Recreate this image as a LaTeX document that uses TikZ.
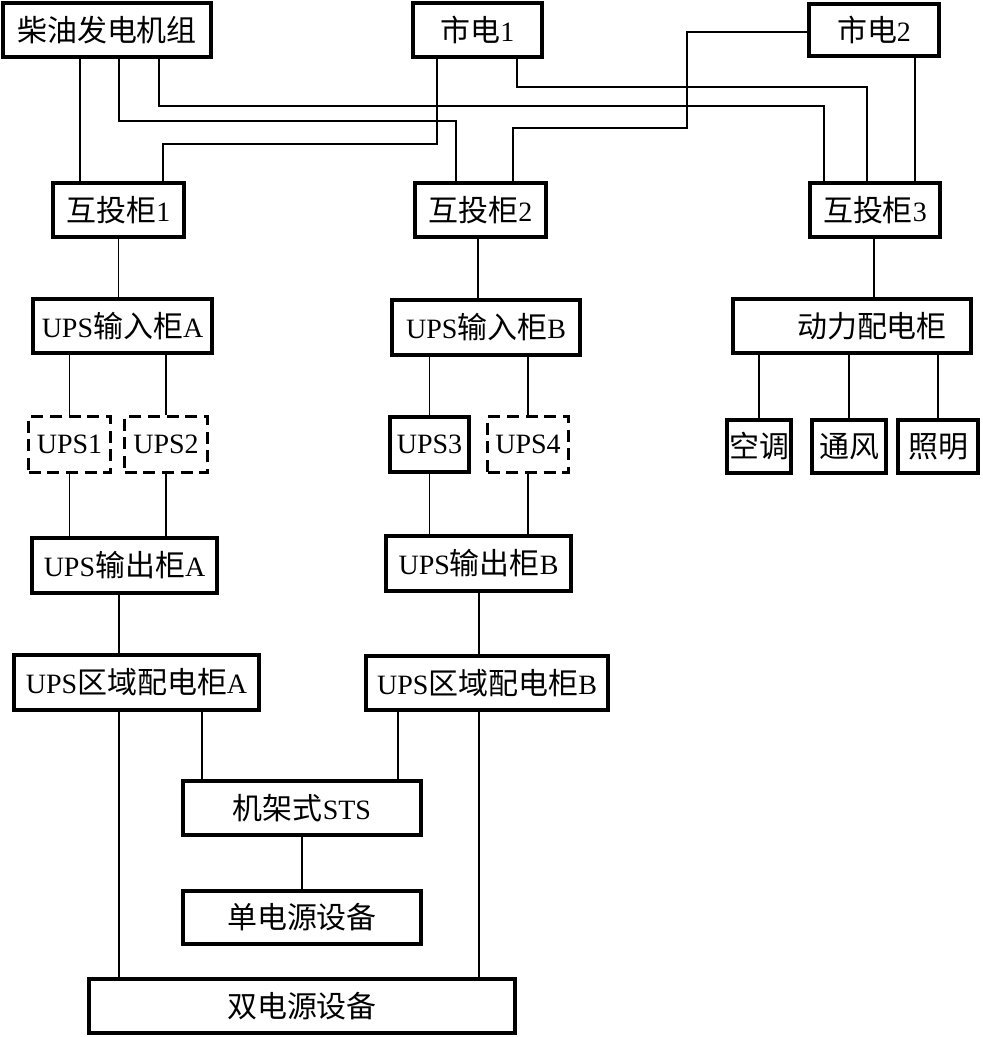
\documentclass[tikz,border=0pt]{standalone}
\usepackage{fontspec}
\setmainfont{Liberation Serif}
\newfontfamily\zhfont[Scale=1.07]{Noto Sans CJK SC}
\newcommand{\zh}[1]{{\zhfont #1}}

\begin{document}
\begin{tikzpicture}[x=0.75pt, y=-0.75pt,
    font=\fontsize{21}{25}\selectfont,
    boxsize/.style 2 args={minimum width=#1*0.75pt, minimum height=#2*0.75pt},
    box/.style={draw, line width=3.2pt, inner sep=0pt},
    dbox/.style={draw, line width=1.8pt, dash pattern=on 9pt off 5pt, inner sep=0pt},
    wire/.style={line width=0.8pt}]

\useasboundingbox (0,0) rectangle (982,1037);

% Power sources
\node[box, boxsize={208}{54}] (diesel) at (107,30) {\zh{柴油发电机组}};
\node[box, boxsize={129}{54}] (grid1) at (477.5,30) {\zh{市电}1};
\node[box, boxsize={130}{52}] (grid2) at (874,30) {\zh{市电}2};

% Transfer cabinets
\node[box, boxsize={131}{54}] (ats1) at (118.5,210) {\zh{互投柜}1};
\node[box, boxsize={131}{54}] (ats2) at (480.5,210) {\zh{互投柜}2};
\node[box, boxsize={130}{54}] (ats3) at (875,210) {\zh{互投柜}3};

% Input cabinets
\node[box, boxsize={179}{54}] (inA) at (122.5,326) {UPS\zh{输入柜}A};
\node[box, boxsize={188}{55}] (inB) at (486,327.5) {UPS\zh{输入柜}B};
\node[box, boxsize={238}{54}] (power) at (852,326) {\hspace*{30pt}\zh{动力配电柜}};

% UPS units
\node[dbox, boxsize={82}{56}] (ups1) at (69.5,444.5) {UPS1};
\node[dbox, boxsize={83}{56}] (ups2) at (166,444.5) {UPS2};
\node[box, boxsize={79}{55}] (ups3) at (429.5,444.5) {UPS3};
\node[dbox, boxsize={81}{56}] (ups4) at (528,444.5) {UPS4};

% Power loads
\node[box, boxsize={64}{53}] (ac) at (759,446.5) {\zh{空调}};
\node[box, boxsize={74}{53}] (fan) at (849,446.5) {\zh{通风}};
\node[box, boxsize={80}{53}] (light) at (938,446.5) {\zh{照明}};

% Output and distribution
\node[box, boxsize={185}{55}] (outA) at (124.5,565.5) {UPS\zh{输出柜}A};
\node[box, boxsize={185}{55}] (outB) at (478.5,563.5) {UPS\zh{输出柜}B};
\node[box, boxsize={245}{55}] (distA) at (136.5,682.5) {UPS\zh{区域配电柜}A};
\node[box, boxsize={242}{54}] (distB) at (487,683) {UPS\zh{区域配电柜}B};

% Equipment
\node[box, boxsize={238}{54}] (sts) at (302,808) {\zh{机架式}STS};
\node[box, boxsize={238}{53}] (single) at (302,917.5) {\zh{单电源设备}};
\node[box, boxsize={426}{54}] (dual) at (302,1006) {\zh{双电源设备}};

% Feeders to transfer cabinets
\draw[wire] (diesel.south -| 80,0) -- (ats1.north -| 80,0);
\draw[wire] (diesel.south -| 119,0) |- (456,121) -- (ats2.north -| 456,0);
\draw[wire, line width=1.6pt] (diesel.south -| 159,0) |- (824,106) -- (ats3.north -| 824,0);
\draw[wire] (grid1.south -| 437,0) |- (163,144) -- (ats1.north -| 163,0);
\draw[wire] (grid1.south -| 517,0) |- (867,87) -- (ats3.north -| 867,0);
\draw[wire, line width=1.3pt] (grid2.west |- 0,32) -| (687,128) -| (ats2.north -| 513,0);
\draw[wire] (grid2.south -| 915,0) -- (ats3.north -| 915,0);

% Down the columns
\draw[wire] (ats1.south) -- (inA.north -| ats1.south);
\draw[wire] (ats2.south -| 478,0) -- (inB.north -| 478,0);
\draw[wire] (ats3.south -| 874,0) -- (power.north -| 874,0);
\foreach \u in {ups1,ups2}
  \draw[wire] (inA.south -| \u) -- (\u) -- (outA.north -| \u);
\foreach \u in {ups3,ups4}
  \draw[wire] (inB.south -| \u) -- (\u) -- (outB.north -| \u);
\foreach \u in {ac,fan,light}
  \draw[wire] (power.south -| \u) -- (\u);
\draw[wire] (outA.south -| 119,0) -- (distA.north -| 119,0);
\draw[wire] (outB.south -| 479,0) -- (distB.north -| 479,0);
\draw[wire] (distA.south -| 119,0) -- (dual.north -| 119,0);
\draw[wire] (distA.south -| 202,0) -- (sts.north -| 202,0);
\draw[wire] (distB.south -| 398,0) -- (sts.north -| 398,0);
\draw[wire] (distB.south -| 479,0) -- (dual.north -| 479,0);
\draw[wire] (sts) -- (single);

\end{tikzpicture}
\end{document}
